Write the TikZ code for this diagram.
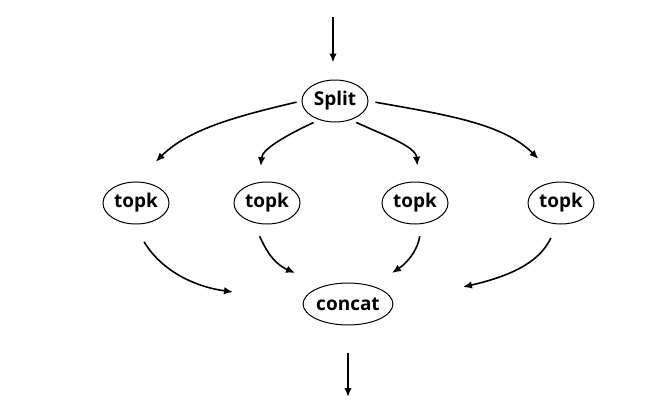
\documentclass[tikz,border=0pt]{standalone}
\usepackage{fontspec}
\setmainfont{Open Sans}
\usepackage{tikz}
\usetikzlibrary{shapes.geometric}
\usetikzlibrary{arrows.meta}
\begin{document}
\begin{tikzpicture}[x=1pt, y=1pt,
  op/.style={draw, ellipse, line width=1pt, inner sep=0pt, minimum width=66pt, minimum height=42pt, font=\fontsize{19}{22}\selectfont\bfseries},
  flow/.style={line width=1.6pt, -{Latex[length=9pt,width=7.5pt]}}]
				    		\useasboundingbox (0, 0) rectangle (672, -407);
				    		\node[op] (split) at (335, -101) {Split};
				    		\node[op] (topk1) at (136, -203) {topk};
				    		\node[op] (topk2) at (267, -203) {topk};
				    		\node[op] (topk3) at (415, -203) {topk};
				    		\node[op] (topk4) at (561, -203) {topk};
				    		\node[op, minimum width=67pt] (concat) at (348, -304) {concat};
				    		\coordinate (in) at (333, -17);
				    		\coordinate (out) at (348, -397);
				    		\coordinate (join1) at (233, -292);
				    		\coordinate (join2) at (295, -273);
				    		\coordinate (join3) at (392, -273);
				    		\coordinate (join4) at (463, -287);
				    		\draw[flow, shorten >=17pt] (in) -- (split.north -| in);
				    		\draw[flow, shorten <=5pt, shorten >=28pt] (split.west) to[out=193, in=45] (topk1.north);
				    		\draw[flow, shorten <=6pt, shorten >=16pt] (split.230) to[out=205, in=85] (topk2.110);
				    		\draw[flow, shorten <=6pt, shorten >=16pt] (split.310) to[out=-25, in=95] (topk3.80);
				    		\draw[flow, shorten <=7pt, shorten >=32pt] (split.east) to[out=-10, in=135] (topk4.north);
				    		\draw[flow, shorten <=20pt] (topk1.265) to[out=-60, in=172] (join1);
				    		\draw[flow, shorten <=15pt] (topk2.235) to[out=-65, in=156] (join2);
				    		\draw[flow, shorten <=12pt] (topk3.285) to[out=-95, in=34] (join3);
				    		\draw[flow, shorten <=15pt] (topk4.260) to[out=-115, in=13] (join4);
				    		\draw[flow, shorten <=27pt] (concat.south) -- (out);
				    	\end{tikzpicture}
\end{document}
